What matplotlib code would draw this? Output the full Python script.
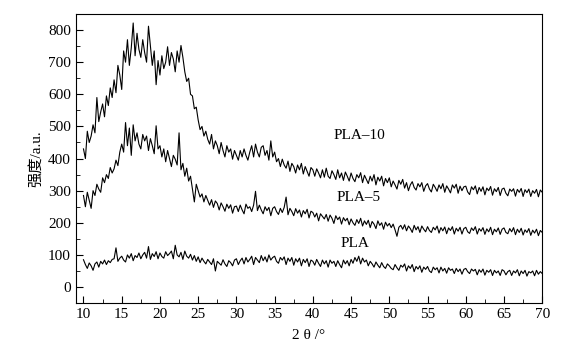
import numpy as np
import matplotlib
matplotlib.use("Agg")
import matplotlib.pyplot as plt
from matplotlib.ticker import MultipleLocator

plt.rcParams['font.family'] = ['Liberation Serif', 'Noto Sans CJK SC', 'DejaVu Sans']

# 2theta grid of the traces (every 0.25 deg, 10..70)
two_theta = np.arange(10, 70.001, 0.25)

# intensities, one row per 5 degrees
pla10 = [
    430, 400, 485, 450, 470, 505, 480, 590, 515, 545, 570, 530, 595, 565, 620, 590, 645, 605, 690, 660,
    615, 735, 700, 770, 690, 745, 822, 720, 790, 740, 715, 770, 730, 700, 812, 750, 690, 735, 630, 705,
    660, 720, 680, 700, 748, 690, 730, 710, 670, 735, 700, 752, 715, 670, 640, 650, 600, 595, 555, 560,
    520, 490, 500, 470, 485, 460, 445, 475, 430, 455, 440, 415, 450, 425, 405, 440, 420, 430, 398, 425,
    410, 395, 425, 405, 430, 410, 395, 420, 440, 405, 445, 420, 405, 435, 440, 410, 425, 395, 455, 405,
    420, 390, 400, 375, 398, 380, 370, 392, 360, 385, 375, 355, 380, 365, 385, 352, 375, 360, 345, 372,
    365, 345, 368, 355, 340, 365, 342, 370, 345, 338, 362, 350, 335, 365, 340, 355, 332, 358, 345, 330,
    355, 338, 328, 350, 340, 356, 325, 348, 335, 322, 345, 330, 350, 318, 342, 330, 345, 315, 338, 325,
    340, 312, 330, 318, 305, 332, 320, 335, 308, 325, 300, 318, 328, 310, 302, 322, 312, 325, 298, 315,
    322, 305, 296, 320, 310, 298, 318, 306, 322, 295, 315, 305, 293, 318, 308, 320, 292, 314, 300, 312,
    314, 296, 288, 312, 303, 315, 290, 310, 298, 312, 287, 308, 300, 313, 286, 306, 297, 310, 285, 305,
    308, 292, 284, 305, 298, 306, 283, 304, 295, 307, 282, 303, 294, 305, 282, 300, 292, 304, 281, 302,
    295,
]

pla5 = [
    285, 250, 295, 270, 245, 300, 285, 320, 305, 295, 340, 325, 350, 338, 372, 355, 368, 395, 378, 420,
    445, 420, 512, 440, 495, 410, 505, 455, 480, 445, 430, 475, 455, 470, 425, 462, 440, 415, 502, 430,
    440, 405, 430, 390, 425, 400, 375, 410, 398, 380, 480, 365, 385, 345, 370, 330, 345, 305, 265, 320,
    300, 280, 290, 265, 285, 270, 255, 272, 248, 268, 260, 240, 262, 250, 236, 258, 245, 256, 230, 250,
    252, 235, 255, 240, 228, 258, 245, 250, 235, 255, 298, 238, 255, 240, 228, 250, 238, 248, 222, 245,
    250, 235, 226, 245, 232, 248, 280, 225, 245, 235, 222, 244, 230, 240, 218, 238, 228, 242, 215, 236,
    232, 218, 230, 206, 228, 220, 212, 226, 205, 224, 214, 198, 222, 210, 218, 196, 216, 206, 214, 194,
    212, 200, 192, 210, 198, 214, 190, 206, 195, 208, 185, 204, 196, 182, 206, 192, 200, 180, 202, 190,
    198, 185, 196, 178, 158, 186, 192, 180, 194, 175, 190, 182, 170, 192, 178, 188, 170, 190, 180, 172,
    188, 176, 170, 186, 178, 190, 168, 185, 175, 187, 166, 184, 176, 188, 165, 183, 174, 186, 165, 182,
    186, 172, 167, 184, 176, 188, 165, 182, 174, 185, 164, 181, 172, 186, 163, 180, 172, 184, 164, 180,
    184, 170, 166, 182, 172, 185, 163, 180, 170, 183, 162, 178, 170, 182, 161, 177, 168, 180, 160, 176,
    170,
]

pla = [
    85, 70, 58, 75, 66, 52, 72, 78, 62, 80, 72, 84, 70, 82, 76, 86, 88, 122, 80, 90,
    96, 84, 78, 100, 90, 104, 82, 98, 92, 106, 88, 100, 108, 90, 126, 86, 104, 95, 110, 88,
    106, 95, 90, 110, 98, 104, 112, 88, 130, 100, 94, 108, 86, 112, 96, 90, 102, 84, 98, 80,
    94, 76, 90, 80, 72, 86, 78, 70, 88, 50, 80, 74, 68, 85, 72, 64, 82, 76, 66, 84,
    88, 70, 82, 90, 72, 92, 78, 86, 96, 70, 92, 84, 76, 98, 82, 94, 78, 100, 84, 92,
    96, 80, 74, 92, 84, 94, 70, 90, 80, 92, 68, 88, 78, 90, 66, 86, 76, 88, 64, 84,
    80, 68, 86, 74, 64, 84, 72, 82, 62, 84, 74, 80, 64, 82, 70, 60, 84, 72, 82, 66,
    86, 74, 92, 80, 96, 72, 90, 78, 84, 66, 80, 72, 62, 78, 68, 60, 76, 64, 58, 72,
    66, 58, 54, 70, 60, 52, 68, 62, 72, 50, 66, 58, 70, 48, 64, 56, 66, 46, 62, 55,
    64, 50, 45, 62, 54, 60, 44, 62, 50, 58, 43, 60, 52, 56, 42, 58, 48, 56, 40, 55,
    58, 48, 42, 56, 50, 55, 38, 54, 46, 56, 37, 52, 46, 54, 36, 52, 44, 50, 36, 54,
    50, 38, 48, 52, 36, 50, 44, 54, 35, 50, 42, 52, 34, 48, 44, 50, 35, 52, 40, 48,
    42,
]

names = ['PLA–10', 'PLA–5', 'PLA']
label_pos = [(42.7, 471), (43.1, 279), (43.6, 136)]

fig = plt.figure(figsize=(5.66, 3.5), dpi=100)
ax = fig.add_axes([0.134, 0.134, 0.824, 0.826])

for y in [pla10, pla5, pla]:
    ax.plot(two_theta, y, color='black', lw=0.8)

for name, (tx, ty) in zip(names, label_pos):
    ax.text(tx, ty, name, fontsize=11, va='center', ha='left')

ax.set_xlim(9, 70)
ax.set_ylim(-50, 850)
ax.xaxis.set_major_locator(MultipleLocator(5))
ax.xaxis.set_minor_locator(MultipleLocator(2.5))
ax.yaxis.set_major_locator(MultipleLocator(100))
ax.yaxis.set_minor_locator(MultipleLocator(50))
ax.tick_params(which='both', direction='in', top=False, right=False, labelsize=11)
ax.tick_params(which='major', length=5)
ax.tick_params(which='minor', length=3)

ax.set_xlabel('2 θ /°', fontsize=11, labelpad=6)
ax.set_ylabel('强度/a.u.', fontsize=11, labelpad=4)

fig.savefig('out.png', dpi=100)
